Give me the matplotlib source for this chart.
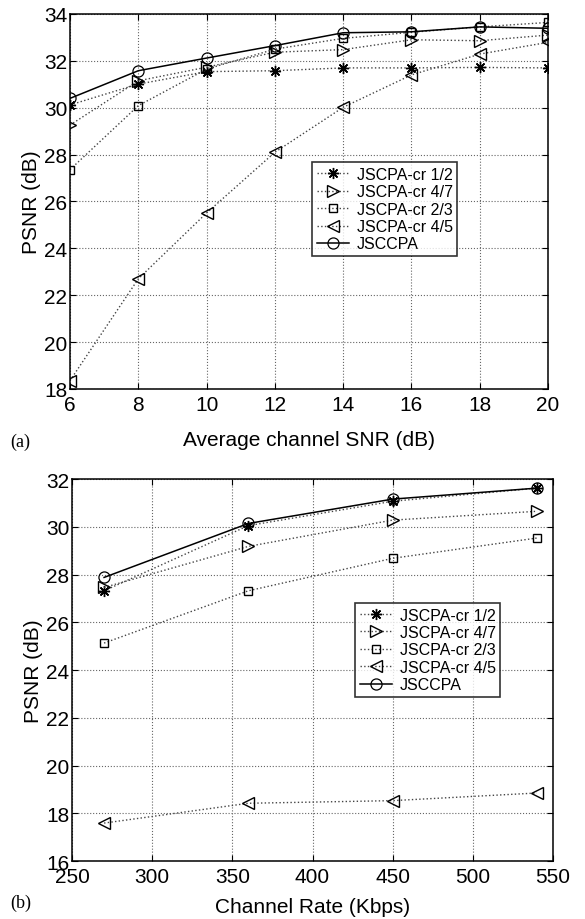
import matplotlib
matplotlib.use('Agg')
import matplotlib.pyplot as plt
import numpy as np

plt.rcParams['font.family'] = ['Liberation Sans', 'DejaVu Sans']

# (a) PSNR vs average channel SNR
snr = [6, 8, 10, 12, 14, 16, 18, 20]
a_cr12 = [30.12, 31.01, 31.54, 31.58, 31.70, 31.70, 31.72, 31.70]
a_cr47 = [29.26, 31.15, 31.73, 32.37, 32.48, 32.90, 32.86, 33.10]
a_cr23 = [27.36, 30.09, 31.65, 32.50, 32.96, 33.22, 33.45, 33.64]
a_cr45 = [18.36, 22.70, 25.51, 28.10, 30.02, 31.40, 32.29, 32.79]
a_jsccpa = [30.40, 31.58, 32.12, 32.65, 33.20, 33.24, 33.45, 33.39]

# (b) PSNR vs channel rate
rate = [270, 360, 450, 540]
b_cr12 = [27.32, 30.05, 31.07, 31.62]
b_cr47 = [27.46, 29.18, 30.28, 30.65]
b_cr23 = [25.13, 27.32, 28.68, 29.53]
b_cr45 = [17.59, 18.42, 18.53, 18.85]
b_jsccpa = [27.88, 30.14, 31.16, 31.62]

labels = ['JSCPA-cr 1/2', 'JSCPA-cr 4/7', 'JSCPA-cr 2/3', 'JSCPA-cr 4/5', 'JSCCPA']


def draw(ax, x, series):
    # matlab-ish markers: asterisk, right/left triangles, square
    styles = [((8, 2, 0), 8, 'k'), ('>', 9, 'none'), ('s', 6, 'none'), ('<', 9, 'none')]
    for y, (m, ms, fc), lab in zip(series[:4], styles, labels[:4]):
        ax.plot(x, y, linestyle=':', color='#444444', lw=1.0, marker=m, ms=ms,
                mfc=fc, mec='k', mew=1.0, label=lab)
    ax.plot(x, series[4], '-', color='k', lw=1.1, marker='o', ms=8,
            mfc='none', mec='k', mew=0.9, label=labels[4])
    ax.grid(True, linestyle=':', color='#666666', lw=0.8)
    ax.tick_params(direction='in', top=True, right=True, labelsize=15, length=4)
    ax.tick_params(axis='x', pad=4.5)
    ax.tick_params(axis='y', pad=2)
    for s in ax.spines.values():
        s.set_linewidth(1.1)
    ax.set_ylabel('PSNR (dB)', fontsize=15, labelpad=2)


fig = plt.figure(figsize=(5.85, 9.2), dpi=100)

ax1 = fig.add_axes([0.1197, 0.5761, 0.8171, 0.4076])
draw(ax1, snr, [a_cr12, a_cr47, a_cr23, a_cr45, a_jsccpa])
ax1.set_xlim(6, 20)
ax1.set_ylim(18, 34)
ax1.set_xticks(np.arange(6, 21, 2))
ax1.set_yticks(np.arange(18, 35, 2))
ax1.set_xlabel('Average channel SNR (dB)', fontsize=15, labelpad=11)
leg1 = ax1.legend(loc='upper left', bbox_to_anchor=(0.506, 0.605), fontsize=11.5,
                  frameon=True, fancybox=False, edgecolor='k', borderpad=0.3,
                  labelspacing=0.15, handlelength=2.0, handletextpad=0.5,
                  borderaxespad=0)
leg1.get_frame().set_linewidth(1.2)

ax2 = fig.add_axes([0.1231, 0.0630, 0.8222, 0.4152])
draw(ax2, rate, [b_cr12, b_cr47, b_cr23, b_cr45, b_jsccpa])
ax2.set_xlim(250, 550)
ax2.set_ylim(16, 32)
ax2.set_xticks(np.arange(250, 551, 50))
ax2.set_yticks(np.arange(16, 33, 2))
ax2.set_xlabel('Channel Rate (Kbps)', fontsize=15, labelpad=8)
leg2 = ax2.legend(loc='upper left', bbox_to_anchor=(0.588, 0.676), fontsize=11.5,
                  frameon=True, fancybox=False, edgecolor='k', borderpad=0.3,
                  labelspacing=0.15, handlelength=2.0, handletextpad=0.5,
                  borderaxespad=0)
leg2.get_frame().set_linewidth(1.2)

fig.text(10 / 585, 1 - 442 / 920, '(a)', family='Liberation Serif', fontsize=13, va='center')
fig.text(10 / 585, 1 - 903 / 920, '(b)', family='Liberation Serif', fontsize=13, va='center')

fig.savefig('out.png', dpi=100)
